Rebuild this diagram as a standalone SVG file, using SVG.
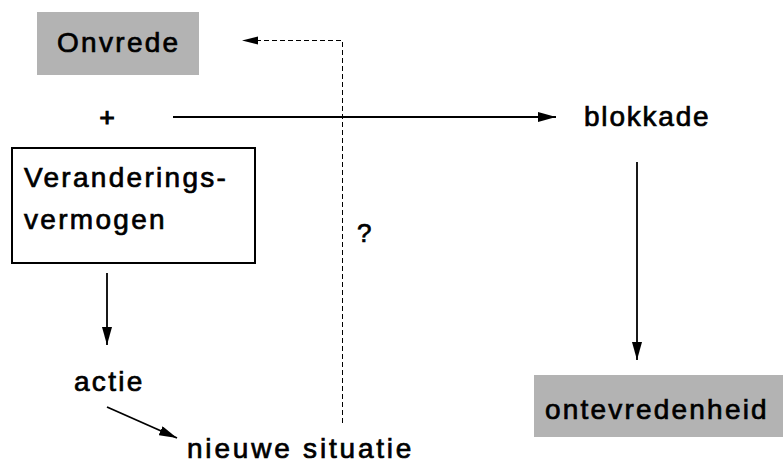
<svg xmlns="http://www.w3.org/2000/svg" width="783" height="466" viewBox="0 0 783 466">
<style>
.t{font-family:"Liberation Sans",Arial,Helvetica,sans-serif;font-weight:normal;font-size:28px;letter-spacing:2.3px;fill:#000;stroke:#000;stroke-width:0.7px}
.gray{fill:#b3b3b3}
.ln{stroke:#000;stroke-width:1.8;fill:none}
.dash{stroke:#000;stroke-width:1;fill:none;stroke-dasharray:5,3}
</style>
<defs>
<marker id="ah" markerUnits="userSpaceOnUse" markerWidth="18" markerHeight="10" refX="18" refY="5" orient="auto">
<path d="M0,0 L18,5 L0,10 z" fill="#000"/>
</marker>
</defs>
<rect width="783" height="466" fill="#fff"/>
<g id="onvrede">
<rect class="gray" x="37" y="12" width="162" height="63"/>
<text class="t" x="57" y="52">Onvrede</text>
</g>
<g id="plus">
<text class="t" x="107" y="126" text-anchor="middle" style="letter-spacing:0;font-size:26px;stroke-width:1.2px">+</text>
</g>
<g id="veranderingsvermogen">
<rect x="12" y="148" width="243" height="115" fill="#fff" stroke="#000" stroke-width="2"/>
<text class="t" x="24" y="187">Veranderings-</text>
<text class="t" x="24" y="229">vermogen</text>
</g>
<g id="actie">
<text class="t" x="74" y="391">actie</text>
</g>
<g id="nieuwe-situatie">
<text class="t" x="187" y="458" style="letter-spacing:2.8px">nieuwe situatie</text>
</g>
<g id="blokkade">
<text class="t" x="584" y="126" style="letter-spacing:1.8px">blokkade</text>
</g>
<g id="ontevredenheid">
<rect class="gray" x="534" y="375" width="249" height="62"/>
<text class="t" x="545" y="419" style="letter-spacing:2.2px">ontevredenheid</text>
</g>
<g id="vraag">
<text class="t" x="357" y="242" style="font-size:26px;letter-spacing:0">?</text>
</g>
<g id="connectors">
<line class="ln" x1="173" y1="117" x2="556" y2="117" marker-end="url(#ah)"/>
<line class="ln" x1="637" y1="162" x2="637" y2="360" marker-end="url(#ah)"/>
<line class="ln" x1="107" y1="273" x2="107" y2="345" marker-end="url(#ah)"/>
<line class="ln" x1="107" y1="407" x2="177" y2="438" marker-end="url(#ah)"/>
<polyline class="dash" points="342.5,423 342.5,40.5 256,40.5"/>
<path d="M242,40.5 L258,36.5 L258,44.5 z" fill="#000"/>
</g>
</svg>
